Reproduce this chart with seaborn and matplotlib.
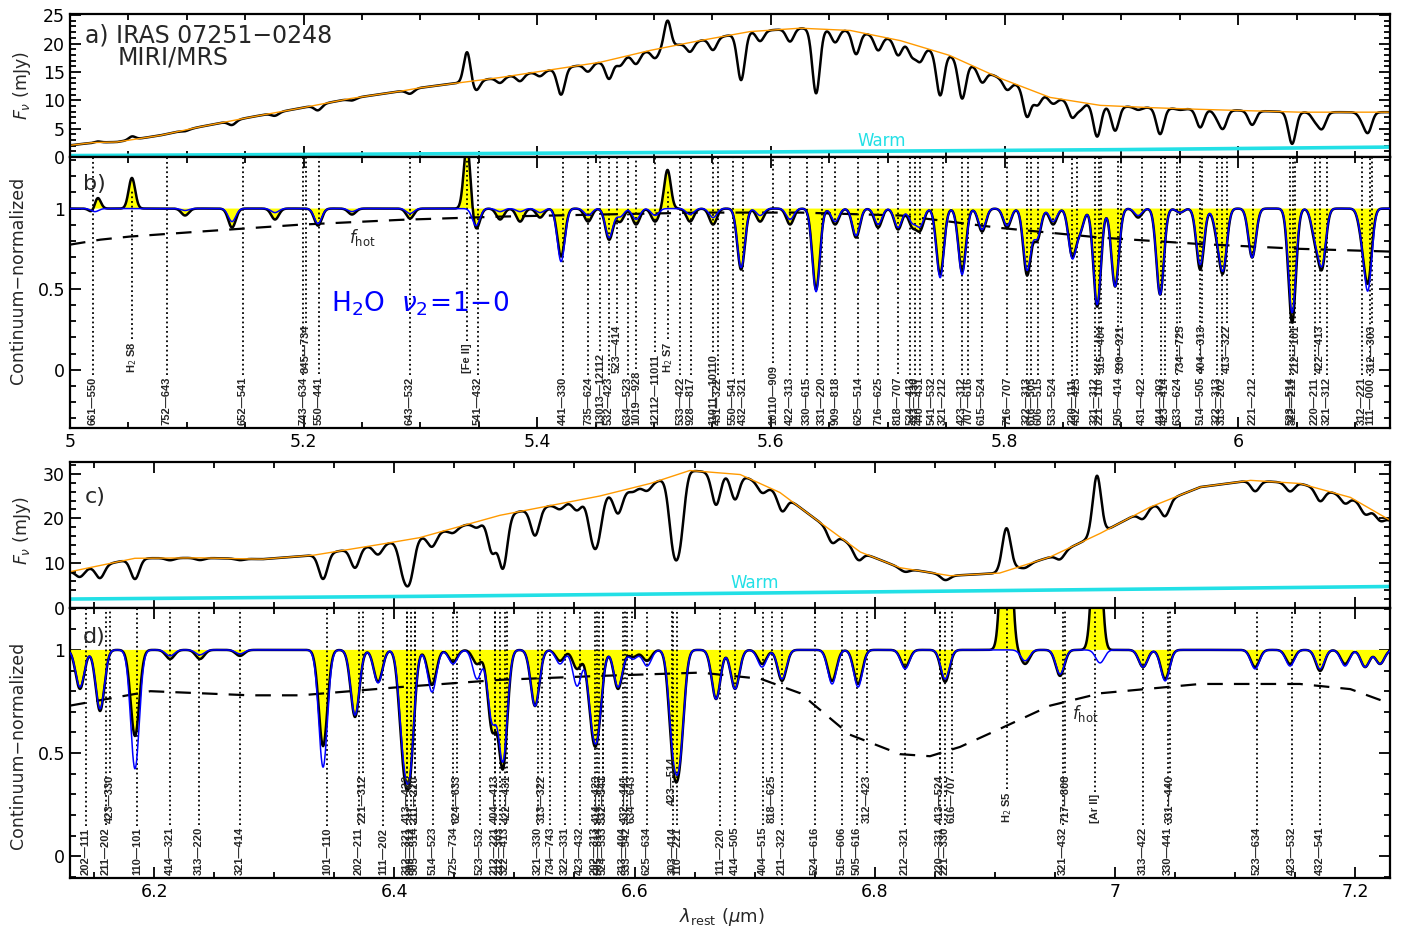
import numpy as np
import matplotlib
matplotlib.use("Agg")
import matplotlib.pyplot as plt
import seaborn as sns
from matplotlib.ticker import MultipleLocator, FuncFormatter

# ---------------------------------------------------------------- data
# Continuum fits (mJy)
cont_a_wl = [5.000, 5.020, 5.040, 5.077, 5.111, 5.154, 5.197, 5.240, 5.283, 5.300,
             5.368, 5.454, 5.497, 5.539, 5.582, 5.625, 5.668, 5.711, 5.753, 5.796,
             5.839, 5.882, 5.925, 5.967, 6.053, 6.130]
cont_a_f = [2.06, 2.55, 2.64, 3.8, 5.3, 7.0, 8.6, 10.3, 11.6, 12.2,
            14.0, 16.7, 18.8, 20.5, 22.1, 22.7, 22.3, 20.5, 17.9, 13.9,
            10.5, 9.1, 8.7, 8.4, 7.9, 7.9]
cont_c_wl = [6.130, 6.184, 6.238, 6.290, 6.333, 6.388, 6.421, 6.488, 6.571, 6.613,
             6.646, 6.688, 6.721, 6.754, 6.788, 6.821, 6.863, 6.904, 6.946, 6.988,
             7.029, 7.071, 7.113, 7.154, 7.196, 7.229]
cont_c_f = [8.1, 11.1, 11.2, 10.9, 11.8, 14.2, 15.7, 20.7, 25.0, 27.8,
            30.7, 29.8, 25.8, 19.2, 12.5, 9.0, 7.2, 7.8, 11.4, 16.7,
            22.5, 27.0, 28.5, 27.8, 24.7, 19.6]

# Warm dust component (mJy)
warm_a_wl = [5.00, 5.30, 5.60, 5.90, 6.13]
warm_a_f = [0.25, 0.55, 0.90, 1.30, 1.75]
warm_c_wl = [6.13, 6.42, 6.80, 7.229]
warm_c_f = [2.0, 2.6, 3.6, 4.8]

# Hot-component fraction (dashed)
fhot_b_wl = [5.000, 5.026, 5.051, 5.111, 5.197, 5.283, 5.368, 5.454, 5.539, 5.625,
             5.711, 5.796, 5.882, 5.967, 6.053, 6.130]
fhot_b = [0.776, 0.807, 0.826, 0.857, 0.900, 0.930, 0.950, 0.963, 0.975, 0.975,
          0.957, 0.880, 0.820, 0.780, 0.750, 0.733]
fhot_d_wl = [6.130, 6.197, 6.280, 6.322, 6.405, 6.488, 6.571, 6.655, 6.705, 6.738,
             6.779, 6.821, 6.846, 6.871, 6.904, 6.946, 6.988, 7.071, 7.154, 7.196, 7.229]
fhot_d = [0.730, 0.800, 0.780, 0.780, 0.820, 0.855, 0.874, 0.890, 0.860, 0.790,
          0.590, 0.495, 0.485, 0.530, 0.617, 0.730, 0.790, 0.835, 0.835, 0.810, 0.740]

# Absorption features, 5.0-6.13 um: centre, observed depth, model depth
abs_b_wl = [5.0214, 5.0985, 5.1387, 5.1755, 5.2123, 5.2414, 5.2911, 5.3476, 5.3682, 5.3853,
            5.4024, 5.4204, 5.4435, 5.4615, 5.4709, 5.4846, 5.5009, 5.5308, 5.5505, 5.5745,
            5.5908, 5.6164, 5.6387, 5.6550, 5.6729, 5.6918, 5.7089, 5.7209, 5.7277, 5.7449,
            5.7637, 5.7808, 5.8022, 5.8193, 5.8279, 5.8416, 5.8579, 5.8647, 5.8793, 5.8947,
            5.9144, 5.9332, 5.9503, 5.9675, 5.9820, 5.9872, 6.0120, 6.0462, 6.0659, 6.0719,
            6.1062, 6.1113]
abs_b_obs = [0.068, 0.043, 0.118, 0.068, 0.106, 0.037, 0.062, 0.130, 0.068, 0.081,
             0.056, 0.298, 0.081, 0.193, 0.081, 0.099, 0.081, 0.081, 0.099, 0.379,
             0.081, 0.099, 0.503, 0.099, 0.180, 0.118, 0.130, 0.106, 0.130, 0.410,
             0.391, 0.143, 0.118, 0.410, 0.193, 0.099, 0.286, 0.130, 0.609, 0.484,
             0.056, 0.534, 0.025, 0.379, 0.130, 0.366, 0.304, 0.708, 0.174, 0.348,
             0.143, 0.422]
abs_b_mod = [0.019, 0.012, 0.081, 0.025, 0.093, 0.019, 0.031, 0.106, 0.019, 0.019,
             0.025, 0.329, 0.043, 0.180, 0.050, 0.068, 0.043, 0.037, 0.056, 0.366,
             0.043, 0.068, 0.516, 0.081, 0.168, 0.099, 0.118, 0.081, 0.106, 0.429,
             0.410, 0.130, 0.106, 0.379, 0.180, 0.081, 0.298, 0.130, 0.596, 0.484,
             0.043, 0.534, 0.025, 0.348, 0.118, 0.354, 0.304, 0.646, 0.161, 0.329,
             0.130, 0.472]
# Emission lines, 5.0-6.13 um: centre, peak above continuum
emi_b_wl = [5.0231, 5.0530, 5.3399, 5.5115]
emi_b_amp = [0.12, 0.19, 0.40, 0.24]

# Absorption features, 6.13-7.23 um
abs_d_wl = [6.1383, 6.1550, 6.1841, 6.2133, 6.2382, 6.2715, 6.3407, 6.3673, 6.3865, 6.4073,
            6.4131, 6.4314, 6.4489, 6.4689, 6.4814, 6.4905, 6.5172, 6.5380, 6.5522, 6.5646,
            6.5696, 6.5863, 6.5988, 6.6104, 6.6321, 6.6379, 6.6679, 6.6837, 6.7062, 6.7228,
            6.7645, 6.7861, 6.8253, 6.8586, 6.9252, 6.9543, 6.9876, 7.0234, 7.0418, 7.1167,
            7.1458, 7.1708, 7.1916, 7.2083, 7.2207]
abs_d_obs = [0.189, 0.296, 0.417, 0.044, 0.044, 0.029, 0.466, 0.325, 0.155, 0.422,
             0.515, 0.170, 0.058, 0.068, 0.374, 0.563, 0.272, 0.053, 0.092, 0.286,
             0.311, 0.189, 0.034, 0.053, 0.456, 0.432, 0.238, 0.189, 0.068, 0.150,
             0.150, 0.165, 0.083, 0.155, 0.068, 0.126, 0.053, 0.083, 0.141, 0.083,
             0.068, 0.102, 0.068, 0.083, 0.068]
abs_d_mod = [0.180, 0.286, 0.576, 0.029, 0.024, 0.019, 0.568, 0.316, 0.160, 0.383,
             0.505, 0.204, 0.068, 0.141, 0.335, 0.529, 0.272, 0.068, 0.175, 0.262,
             0.316, 0.180, 0.044, 0.078, 0.408, 0.432, 0.238, 0.189, 0.083, 0.141,
             0.165, 0.180, 0.092, 0.141, 0.053, 0.117, 0.063, 0.083, 0.150, 0.092,
             0.078, 0.092, 0.078, 0.083, 0.068]
emi_d_wl = [6.9095, 6.9850]
emi_d_amp = [1.15, 0.85]

# Line identifications (wavelength, label, stacking level)
lab_b_wl = [5.0197, 5.0531, 5.0830, 5.1481, 5.1995, 5.2021, 5.2132, 5.2911, 5.3399, 5.3493,
            5.4221, 5.4435, 5.4538, 5.4615, 5.4683, 5.4777, 5.4846, 5.5009, 5.5120, 5.5223,
            5.5317, 5.5505, 5.5548, 5.5676, 5.5762, 5.6019, 5.6164, 5.6310, 5.6438, 5.6550,
            5.6747, 5.6918, 5.7089, 5.7192, 5.7235, 5.7277, 5.7380, 5.7474, 5.7637, 5.7688,
            5.7808, 5.8022, 5.8193, 5.8228, 5.8288, 5.8416, 5.8579, 5.8622, 5.8776, 5.8810,
            5.8827, 5.8973, 5.8998, 5.9178, 5.9341, 5.9375, 5.9478, 5.9503, 5.9675, 5.9692,
            5.9820, 5.9863, 5.9906, 6.0128, 6.0445, 6.0471, 6.0488, 6.0659, 6.0702, 6.0762,
            6.1062, 6.1130, 6.1147]
lab_b_txt = ["661—550", "H$_2$ S8", "752—643", "652—541", "743—634", "845—734", "550—441", "643—532", "[Fe II]", "541—432",
             "441—330", "735—624", "13013—12112", "532—423", "523—414", "634—523", "1019—928", "12112—11011", "H$_2$ S7", "533—422",
             "928—817", "11011—10110", "431—322", "550—541", "432—321", "10110—909", "422—313", "330—615", "331—220", "909—818",
             "625—514", "716—625", "818—707", "524—413", "423—330", "440—431", "541—532", "321—212", "423—312", "707—616",
             "615—524", "716—707", "322—313", "616—505", "606—515", "533—524", "220—111", "432—423", "321—312", "221—110",
             "515—404", "505—414", "330—321", "431—422", "414—303", "423—414", "633—624", "734—725", "514—505", "404—313",
             "322—313", "313—202", "413—322", "221—212", "523—514", "322—211", "212—101", "220—211", "422—413", "321—312",
             "312—221", "111—000", "312—303"]
lab_b_lvl = [0, 1, 0, 0, 0, 1, 0, 0, 1, 0,
             0, 0, 0, 0, 1, 0, 0, 0, 1, 0,
             0, 0, 0, 0, 0, 0, 0, 0, 0, 0,
             0, 0, 0, 0, 0, 0, 0, 0, 0, 0,
             0, 0, 0, 0, 0, 0, 0, 0, 0, 0,
             1, 0, 1, 0, 0, 0, 0, 1, 0, 1,
             0, 0, 1, 0, 0, 0, 1, 0, 1, 0,
             0, 0, 1]

lab_d_wl = [6.1433, 6.1600, 6.1633, 6.1858, 6.2133, 6.2374, 6.2716, 6.3440, 6.3706, 6.3740,
            6.3906, 6.4106, 6.4106, 6.4139, 6.4172, 6.4172, 6.4322, 6.4489, 6.4522, 6.4714,
            6.4839, 6.4839, 6.4880, 6.4922, 6.4939, 6.5197, 6.5230, 6.5297, 6.5422, 6.5546,
            6.5671, 6.5705, 6.5738, 6.5688, 6.5738, 6.5905, 6.5938, 6.5922, 6.5980, 6.6104,
            6.6321, 6.6354, 6.6312, 6.6712, 6.6837, 6.7070, 6.7145, 6.7228, 6.7503, 6.7728,
            6.7853, 6.7936, 6.8253, 6.8544, 6.8586, 6.8544, 6.8644, 6.9102, 6.9568, 6.9585,
            6.9835, 7.0234, 7.0442, 7.0459, 7.1183, 7.1475, 7.1708]
lab_d_txt = ["202—111", "211—202", "423—330", "110—101", "414—321", "313—220", "321—414", "101—110", "202—211", "221—312",
             "111—202", "312—321", "413—422", "303—312", "505—514", "211—220", "514—523", "725—734", "624—633", "523—532",
             "212—221", "404—413", "212—303", "322—413", "422—431", "321—330", "313—322", "734—743", "322—331", "423—432",
             "202—313", "505—514", "524—533", "414—423", "532—541", "313—404", "533—542", "432—441", "634—643", "625—634",
             "303—414", "110—221", "423—514", "111—220", "414—505", "404—515", "818—625", "211—322", "524—616", "515—606",
             "505—616", "312—423", "212—321", "220—331", "221—330", "413—524", "616—707", "H$_2$ S5", "321—432", "717—808",
             "[Ar II]", "313—422", "330—441", "331—440", "523—634", "423—532", "432—541"]
lab_d_lvl = [0, 0, 1, 0, 0, 0, 0, 0, 0, 1,
             0, 0, 1, 0, 0, 1, 0, 0, 1, 0,
             0, 1, 0, 0, 1, 0, 1, 0, 0, 0,
             0, 0, 0, 1, 1, 0, 0, 1, 1, 0,
             0, 0, 1.35, 0, 0, 0, 1, 0, 0, 0,
             0, 1, 0, 0, 0, 1, 1, 1, 0, 1,
             1, 0, 0, 1, 0, 0, 0]

# ---------------------------------------------------------------- spectra
SIG_B, SIG_D = 0.0032, 0.0036


def spectrum(wl, centres, depths, sigma, e_centres=(), e_amps=(), e_sigma=0.003):
    out = np.ones_like(wl)
    for c, d in zip(centres, depths):
        out -= d * np.exp(-0.5 * ((wl - c) / sigma) ** 2)
    for c, a in zip(e_centres, e_amps):
        out += a * np.exp(-0.5 * ((wl - c) / e_sigma) ** 2)
    return np.clip(out, 0.02, None)


wl_b = np.arange(5.0, 6.1305, 0.0002)
wl_d = np.arange(6.13, 7.2295, 0.0002)
obs_b = spectrum(wl_b, abs_b_wl, abs_b_obs, SIG_B, emi_b_wl, emi_b_amp, 0.0028)
mod_b = spectrum(wl_b, abs_b_wl, abs_b_mod, SIG_B)
obs_d = spectrum(wl_d, abs_d_wl, abs_d_obs, SIG_D, emi_d_wl, emi_d_amp, 0.0035)
mod_d = spectrum(wl_d, abs_d_wl, abs_d_mod, SIG_D)
flux_a = obs_b * np.interp(wl_b, cont_a_wl, cont_a_f)
flux_c = obs_d * np.interp(wl_d, cont_c_wl, cont_c_f)

# ---------------------------------------------------------------- figure
sns.set_theme(style="ticks")
plt.rcParams["font.family"] = ["DejaVu Sans"]
plt.rcParams["mathtext.fontset"] = "dejavusans"

W, H = 1413, 936
fig = plt.figure(figsize=(W / 100, H / 100), dpi=100)


def box(top, bottom):
    return [70 / W, 1 - bottom / H, 1320 / W, (bottom - top) / H]


ax_a = fig.add_axes(box(14, 157))
ax_b = fig.add_axes(box(157, 428))
ax_c = fig.add_axes(box(462, 608))
ax_d = fig.add_axes(box(608, 878))

fmt = FuncFormatter(lambda v, p: f"{v:g}")
for ax in (ax_a, ax_b, ax_c, ax_d):
    for s in ax.spines.values():
        s.set_linewidth(1.6)
        s.set_color("black")
    ax.tick_params(which="both", direction="in", top=True, right=True,
                   width=1.3, colors="black", labelsize=12.5)
    ax.tick_params(which="major", length=8)
    ax.tick_params(which="minor", length=4)
    ax.xaxis.set_major_locator(MultipleLocator(0.2))
    ax.xaxis.set_minor_locator(MultipleLocator(0.05))
    ax.xaxis.set_major_formatter(fmt)
    ax.yaxis.set_major_formatter(fmt)
    ax.set_facecolor("white")

ax_a.set_xlim(5.0, 6.130)
ax_b.set_xlim(5.0, 6.130)
ax_c.set_xlim(6.13, 7.229)
ax_d.set_xlim(6.13, 7.229)
ax_a.set_ylim(0, 25.2)
ax_b.set_ylim(-0.362, 1.32)
ax_c.set_ylim(0, 32.6)
ax_d.set_ylim(-0.105, 1.203)
ax_a.yaxis.set_major_locator(MultipleLocator(5))
ax_a.yaxis.set_minor_locator(MultipleLocator(1))
ax_c.yaxis.set_major_locator(MultipleLocator(10))
ax_c.yaxis.set_minor_locator(MultipleLocator(2))
for ax in (ax_b, ax_d):
    ax.yaxis.set_major_locator(MultipleLocator(0.5))
    ax.yaxis.set_minor_locator(MultipleLocator(0.1))
ax_a.tick_params(labelbottom=False)
ax_c.tick_params(labelbottom=False)

# flux panels
for ax, wl, fl, cwl, cf, wwl, wf in ((ax_a, wl_b, flux_a, cont_a_wl, cont_a_f, warm_a_wl, warm_a_f),
                                     (ax_c, wl_d, flux_c, cont_c_wl, cont_c_f, warm_c_wl, warm_c_f)):
    sns.lineplot(x=wwl, y=wf, ax=ax, color="#22e0e6", lw=2.6, estimator=None, sort=False)
    sns.lineplot(x=wl, y=fl, ax=ax, color="black", lw=1.8, estimator=None, sort=False)
    sns.lineplot(x=cwl, y=cf, ax=ax, color="#ff9a00", lw=1.0, estimator=None, sort=False)

# normalized panels
for ax, wl, ob, md, fw, fh in ((ax_b, wl_b, obs_b, mod_b, fhot_b_wl, fhot_b),
                               (ax_d, wl_d, obs_d, mod_d, fhot_d_wl, fhot_d)):
    ax.fill_between(wl, ob, 1.0, where=np.abs(ob - 1) > 0.012, color="#ffff00",
                    lw=0, interpolate=True, zorder=1)
    sns.lineplot(x=fw, y=fh, ax=ax, color="black", lw=1.6, linestyle=(0, (7, 5)),
                 estimator=None, sort=False, zorder=3)
    sns.lineplot(x=wl, y=ob, ax=ax, color="black", lw=1.8, estimator=None, sort=False, zorder=4)
    sns.lineplot(x=wl, y=md, ax=ax, color="#0000ff", lw=1.1, estimator=None, sort=False, zorder=5)

# line identifications
labels = []
for ax, lwl, ltx, llv in ((ax_b, lab_b_wl, lab_b_txt, lab_b_lvl),
                          (ax_d, lab_d_wl, lab_d_txt, lab_d_lvl)):
    for w, t, lv in zip(lwl, ltx, llv):
        txt = ax.annotate(t, xy=(w, 0), xycoords=ax.get_xaxis_transform(),
                          xytext=(0, 3 + 52 * lv), textcoords="offset pixels",
                          rotation=90, ha="center", va="bottom", fontsize=8,
                          fontweight="bold", family="Liberation Sans", zorder=6)
        labels.append((ax, w, t, txt))

fig.canvas.draw()
renderer = fig.canvas.get_renderer()
for ax, w, t, txt in labels:
    bb = txt.get_window_extent(renderer)
    y0 = ax.transAxes.inverted().transform((0, bb.y1 + 2))[1]
    y1 = 0.88 if (ax is ax_b and t.startswith("H$_2$")) else 0.995
    ax.plot([w, w], [y0, y1], transform=ax.get_xaxis_transform(), color="black",
            lw=1.3, linestyle=(0, (1.0, 1.6)), zorder=2)

# annotations
ax_a.text(0.011, 0.80, "a) IRAS 07251−0248", transform=ax_a.transAxes, fontsize=17)
ax_a.text(0.036, 0.645, "MIRI/MRS", transform=ax_a.transAxes, fontsize=17)
ax_a.text(5.695, 2.8, "Warm", color="#22e0e6", fontsize=12, ha="center", va="center")
ax_c.text(6.700, 5.5, "Warm", color="#22e0e6", fontsize=12, ha="center", va="center")
ax_b.text(0.010, 0.88, "b)", transform=ax_b.transAxes, fontsize=16)
ax_c.text(0.011, 0.72, "c)", transform=ax_c.transAxes, fontsize=16)
ax_d.text(0.010, 0.87, "d)", transform=ax_d.transAxes, fontsize=16)
ax_b.text(5.250, 0.82, r"$f_{\rm hot}$", fontsize=12, ha="center", va="center")
ax_d.text(6.975, 0.69, r"$f_{\rm hot}$", fontsize=12, ha="center", va="center")
ax_b.text(5.300, 0.41, r"H$_2$O  $\nu_2\!=\!1\!-\!0$", color="#0000ff", fontsize=19,
          ha="center", va="center")

fig.text(22 / W, 1 - 85 / H, r"$F_\nu$ (mJy)", rotation=90, ha="center", va="center", fontsize=12.5)
fig.text(22 / W, 1 - 530 / H, r"$F_\nu$ (mJy)", rotation=90, ha="center", va="center", fontsize=12.5)
fig.text(18 / W, 1 - 280 / H, "Continuum−normalized", rotation=90, ha="center", va="center", fontsize=12.5)
fig.text(18 / W, 1 - 745 / H, "Continuum−normalized", rotation=90, ha="center", va="center", fontsize=12.5)
fig.text(722 / W, 1 - 917 / H, r"$\lambda_{\rm rest}$ ($\mu$m)", ha="center", va="center", fontsize=13)

for ax in (ax_a, ax_b, ax_c, ax_d):
    ax.set_xlabel("")
    ax.set_ylabel("")

fig.savefig("out.png", dpi=100, facecolor="white")
